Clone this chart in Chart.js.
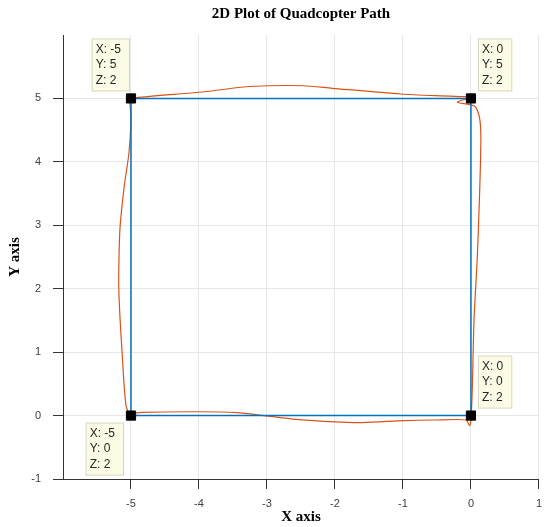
<!DOCTYPE html>
<html>
<head>
<meta charset="utf-8">
<title>2D Plot of Quadcopter Path</title>
<script src="https://cdn.jsdelivr.net/npm/chart.js@4/dist/chart.umd.min.js"></script>
<style>
  body { margin: 0; background: #fff; }
  #wrap { width: 550px; height: 527px; }
</style>
</head>
<body>
<div id="wrap"><canvas id="pathChart" width="550" height="527"></canvas></div>
<script>
// Planned path (blue square at Z = 2)
const plannedX = [-5, 0, 0, -5, -5];
const plannedY = [0, 0, 5, 5, 0];

// Flown path (orange)
const actualX = [-5.0, -4.84, -4.02, -3.44, -3.05, -2.57, -2.0, -1.6, -0.98, -0.55, -0.07, -0.02,
  0.0, 0.02, 0.045, 0.095, 0.13, 0.146, 0.125, 0.05, -0.2, 0.0,
  -0.16, -0.45, -1.03, -2.04, -2.47, -2.98, -3.34, -3.92, -4.93,
  -5.01, -5.0, -5.03, -5.10, -5.16, -5.175, -5.18, -5.16, -5.13, -5.10, -5.07, -5.03];
const actualY = [0.03, 0.05, 0.06, 0.045, 0.0, -0.06, -0.10, -0.11, -0.08, -0.07, -0.07, -0.16,
  -0.07, 0.44, 1.5, 2.54, 3.6, 4.38, 4.7, 4.88, 4.94, 5.02,
  5.03, 5.04, 5.07, 5.16, 5.2, 5.2, 5.18, 5.105, 5.01,
  4.98, 4.67, 4.14, 3.61, 2.98, 2.56, 2.03, 1.51, 0.98, 0.46, 0.14, 0.03];

// Data tips
const tipX = [-5, 0, 0, -5];
const tipY = [5, 5, 0, 0];
const tipZ = [2, 2, 2, 2];

const toPoints = (xs, ys) => xs.map((x, i) => ({ x: x, y: ys[i] }));

const tickFont = { family: "'Liberation Sans', Arial, sans-serif", size: 11 };
const titleFont = { family: "'Liberation Serif', 'Times New Roman', serif", size: 15, weight: 'bold' };

// where each tip box sits relative to its point
const tipPlacement = ['upLeft', 'upRight', 'upRight', 'downLeft'];

const dataTipPlugin = {
  id: 'dataTips',
  afterDatasetsDraw(chart) {
    const ctx = chart.ctx;
    const xs = chart.scales.x, ys = chart.scales.y;
    ctx.save();
    ctx.font = "12px 'Liberation Sans', Arial, sans-serif";
    tipX.forEach((tx, i) => {
      const px = xs.getPixelForValue(tx);
      const py = ys.getPixelForValue(tipY[i]);
      const lines = ['X: ' + tx, 'Y: ' + tipY[i], 'Z: ' + tipZ[i]];
      const w = Math.max(...lines.map(l => ctx.measureText(l).width)) + 13;
      const h = 53;
      let bx, by;
      switch (tipPlacement[i]) {
        case 'upLeft': bx = px - 1 - w; by = py - 7 - h; break;
        case 'upRight': bx = px + 7; by = py - 7 - h; break;
        default: bx = px - 7 - w; by = py + 7;
      }
      ctx.fillStyle = '#fbfbe6';
      ctx.strokeStyle = '#d8d8c4';
      ctx.lineWidth = 1;
      ctx.fillRect(bx, by, w, h);
      ctx.strokeRect(bx + 0.5, by + 0.5, w - 1, h - 1);
      ctx.fillStyle = '#262626';
      ctx.textBaseline = 'middle';
      lines.forEach((l, k) => ctx.fillText(l, bx + 4, by + 11 + k * 15.5));
    });
    ctx.restore();
  }
};

const ctx = document.getElementById('pathChart').getContext('2d');
const pathChart = new Chart(ctx, {
  type: 'scatter',
  data: {
    datasets: [
      {
        label: 'Actual',
        data: toPoints(actualX, actualY),
        showLine: true,
        borderColor: '#D95319',
        borderWidth: 1.2,
        pointRadius: 0,
        tension: 0.25,
        order: 2
      },
      {
        label: 'Planned',
        data: toPoints(plannedX, plannedY),
        showLine: true,
        borderColor: '#0072BD',
        borderWidth: 1.5,
        pointRadius: 0,
        tension: 0,
        order: 1
      },
      {
        label: 'Tips',
        data: toPoints(tipX, tipY),
        showLine: false,
        pointStyle: 'rect',
        pointRadius: 6.5,
        backgroundColor: '#000',
        borderColor: '#000',
        order: 0
      }
    ]
  },
  options: {
    responsive: false,
    animation: false,
    layout: { padding: { left: 0, right: 2, top: 0, bottom: 0 } },
    plugins: {
      legend: { display: false },
      tooltip: { enabled: false },
      title: {
        display: true,
        fullSize: false,
        text: '2D Plot of Quadcopter Path',
        font: titleFont,
        color: '#000',
        padding: { top: 5, bottom: 12 }
      }
    },
    scales: {
      x: {
        type: 'linear',
        min: -6,
        max: 1,
        ticks: { stepSize: 1, font: tickFont, color: '#404040', padding: 8,
          callback: v => (v === -6 ? '' : v) },
        grid: {
          color: '#e6e6e6',
          tickLength: 10,
          tickColor: c => (c.tick && c.tick.value === -6 ? 'rgba(0,0,0,0)' : '#333')
        },
        border: { color: '#333', width: 1 },
        title: { display: true, text: 'X axis', font: titleFont, color: '#000', padding: { top: 0, bottom: 1 } },
        afterFit: s => { s.height = 48; }
      },
      y: {
        type: 'linear',
        min: -1,
        max: 6,
        ticks: { stepSize: 1, font: tickFont, color: '#404040', padding: 12,
          callback: v => (v === 6 ? '' : v) },
        grid: {
          color: c => (c.tick && c.tick.value === 6 ? 'rgba(0,0,0,0)' : '#e6e6e6'),
          tickLength: 10,
          tickColor: c => (c.tick && c.tick.value === 6 ? 'rgba(0,0,0,0)' : '#333')
        },
        border: { color: '#333', width: 1 },
        title: { display: true, text: 'Y axis', font: titleFont, color: '#000', padding: { top: 6, bottom: 0 } },
        afterFit: s => { s.width = 63; }
      }
    }
  },
  plugins: [dataTipPlugin]
});
</script>
</body>
</html>
